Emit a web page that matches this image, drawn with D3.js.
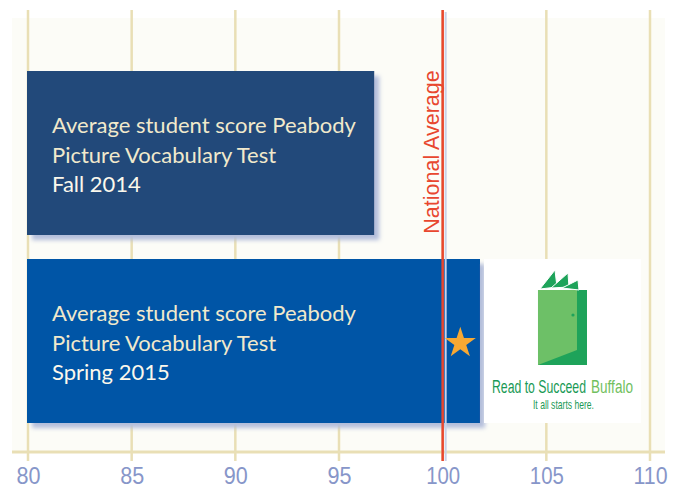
<!DOCTYPE html>
<html>
<head>
<meta charset="utf-8">
<script src="https://cdn.jsdelivr.net/npm/d3@7"></script>
<style>
  body { margin: 0; background: #ffffff; }
  svg { display: block; }
</style>
</head>
<body>
<div id="chart"></div>
<script>
// chart values
var categories = ["Fall 2014", "Spring 2015"];
var scores = [96.7, 101.8];
var barLabels = [
  ["Average student score Peabody", "Picture Vocabulary Test", "Fall 2014"],
  ["Average student score Peabody", "Picture Vocabulary Test", "Spring 2015"]
];
var barColors = ["#22497a", "#0054a6"];
var nationalAverage = 100;
var starScore = 100.85;
var xTicks = [80, 85, 90, 95, 100, 105, 110];

var svgWidth = 677;
var svgHeight = 489;

var svg = d3.select("#chart")
  .append("svg")
  .attr("width", svgWidth)
  .attr("height", svgHeight);

var defs = svg.append("defs");
var shadow = defs.append("filter")
  .attr("id", "shadow")
  .attr("x", "-10%").attr("y", "-10%")
  .attr("width", "130%").attr("height", "130%");
shadow.append("feGaussianBlur").attr("in", "SourceAlpha").attr("stdDeviation", 2).attr("result", "blur");
shadow.append("feOffset").attr("in", "blur").attr("dx", 5).attr("dy", 5).attr("result", "off");
shadow.append("feFlood").attr("flood-color", "#b3bedb").attr("result", "col");
shadow.append("feComposite").attr("in", "col").attr("in2", "off").attr("operator", "in").attr("result", "sh");
var merge = shadow.append("feMerge");
merge.append("feMergeNode").attr("in", "sh");
merge.append("feMergeNode").attr("in", "SourceGraphic");

// scales
var x = d3.scaleLinear()
  .domain([80, 110])
  .range([28, 650]);

var y = d3.scaleBand()
  .domain(categories)
  .range([59, 435])
  .paddingInner(24 / 188)
  .paddingOuter(12 / 188);

// light panel behind the grid
svg.append("rect")
  .attr("x", 12)
  .attr("y", 18)
  .attr("width", 653)
  .attr("height", 434)
  .attr("fill", "#fcfcf7");

// vertical grid lines
svg.append("g")
  .selectAll("line")
  .data(xTicks)
  .enter()
  .append("line")
  .attr("x1", d => x(d))
  .attr("x2", d => x(d))
  .attr("y1", 10)
  .attr("y2", 461)
  .attr("stroke", "#e9dfb5")
  .attr("stroke-width", 2.5);

// bottom axis
var bottomAxis = d3.axisBottom(x)
  .tickValues(xTicks)
  .tickSize(0)
  .tickPadding(15);

var xAxis = svg.append("g")
  .attr("transform", "translate(0, 452)")
  .call(bottomAxis);

xAxis.select(".domain").remove();
xAxis.append("line")
  .attr("x1", 12)
  .attr("x2", 665)
  .attr("stroke", "#e9dfb5")
  .attr("stroke-width", 3);

// condensed digits: squeeze each label to the width seen in the picture
xAxis.selectAll("text")
  .attr("fill", "#8796c9")
  .attr("font-family", "'Liberation Sans', Arial, sans-serif")
  .attr("font-size", 24)
  .attr("textLength", d => String(d).length == 3 ? 34 : 24)
  .attr("lengthAdjust", "spacingAndGlyphs")
  .attr("dy", "0.71em");

// bars
var bars = svg.append("g")
  .selectAll("g")
  .data(categories)
  .enter()
  .append("g");

bars.append("rect")
  .attr("x", x(80) - 1)
  .attr("y", d => y(d))
  .attr("width", (d, i) => x(scores[i]) - x(80) + 1)
  .attr("height", y.bandwidth())
  .attr("fill", (d, i) => barColors[i])
  .attr("filter", "url(#shadow)");

bars.each(function (d, i) {
  var t = d3.select(this).append("text")
    .attr("font-family", "Lato, 'Open Sans', sans-serif")
    .attr("font-size", 22);
  barLabels[i].forEach(function (line, j) {
    t.append("tspan")
      .attr("x", 52)
      .attr("y", y(d) + 62 + j * 29.5)
      .attr("fill", j == 2 ? "#fbf8ec" : "#f1e9cc")
      .text(line);
  });
});

// logo box next to the second bar
var logo = svg.append("g")
  .attr("transform", `translate(${x(scores[1]) + 4}, ${y(categories[1])})`);

logo.append("rect")
  .attr("width", 157)
  .attr("height", y.bandwidth())
  .attr("fill", "#ffffff");

// door / book icon (local coords, box starts at x=485, y=259)
var door = logo.append("g").attr("transform", "translate(-485, -259)");
door.append("rect")
  .attr("x", 539).attr("y", 290).attr("width", 49).attr("height", 75)
  .attr("fill", "#1ea35a");
door.append("polygon")
  .attr("points", "539,290 578,290 578,350 539,365")
  .attr("fill", "#6dc067");
door.append("circle")
  .attr("cx", 574).attr("cy", 315).attr("r", 1.6)
  .attr("fill", "#1ea35a");
var pages = [
  "541,289 556,270 558,287",
  "552,288 569,273 570,287",
  "563,288 579,280 580,290"
];
door.selectAll("polygon.page")
  .data(pages)
  .enter()
  .append("polygon")
  .attr("class", "page")
  .attr("points", d => d)
  .attr("fill", "#1ea35a")
  .attr("stroke", "#ffffff")
  .attr("stroke-width", 1);

// condensed logo lettering: narrow font size, stretched vertically
door.append("text")
  .attr("transform", "translate(493, 393) scale(1, 1.45)")
  .attr("font-family", "'Liberation Sans', Arial, sans-serif")
  .attr("font-size", 13)
  .attr("textLength", 94)
  .attr("lengthAdjust", "spacingAndGlyphs")
  .attr("fill", "#1a9a56")
  .text("Read to Succeed");

door.append("text")
  .attr("transform", "translate(592, 393) scale(1, 1.45)")
  .attr("font-family", "'Liberation Sans', Arial, sans-serif")
  .attr("font-size", 13)
  .attr("textLength", 42)
  .attr("lengthAdjust", "spacingAndGlyphs")
  .attr("fill", "#72bf5f")
  .text("Buffalo");

door.append("text")
  .attr("transform", "translate(534, 409) scale(1, 1.4)")
  .attr("font-family", "'Liberation Sans', Arial, sans-serif")
  .attr("font-size", 8.5)
  .attr("textLength", 61)
  .attr("lengthAdjust", "spacingAndGlyphs")
  .attr("fill", "#1a9a56")
  .text("It all starts here.");

// national average line
var natGroup = svg.append("g");
natGroup.append("line")
  .attr("x1", x(nationalAverage) + 3)
  .attr("x2", x(nationalAverage) + 3)
  .attr("y1", 12)
  .attr("y2", 461)
  .attr("stroke", "#c9d1e8")
  .attr("stroke-width", 2);
natGroup.append("line")
  .attr("x1", x(nationalAverage))
  .attr("x2", x(nationalAverage))
  .attr("y1", 10)
  .attr("y2", 461)
  .attr("stroke", "#e8472f")
  .attr("stroke-width", 2.5);

natGroup.append("text")
  .attr("transform", `translate(${x(nationalAverage) - 4}, 152) rotate(-90)`)
  .attr("text-anchor", "middle")
  .attr("font-family", "'Liberation Sans', Arial, sans-serif")
  .attr("font-size", 21.5)
  .attr("fill", "#e8472f")
  .text("National Average");

// star marker on the spring bar
svg.append("path")
  .attr("d", d3.symbol().type(d3.symbolStar).size(300)())
  .attr("transform", `translate(${x(starScore)}, ${y(categories[1]) + 84})`)
  .attr("fill", "#f7a833");
</script>
</body>
</html>
